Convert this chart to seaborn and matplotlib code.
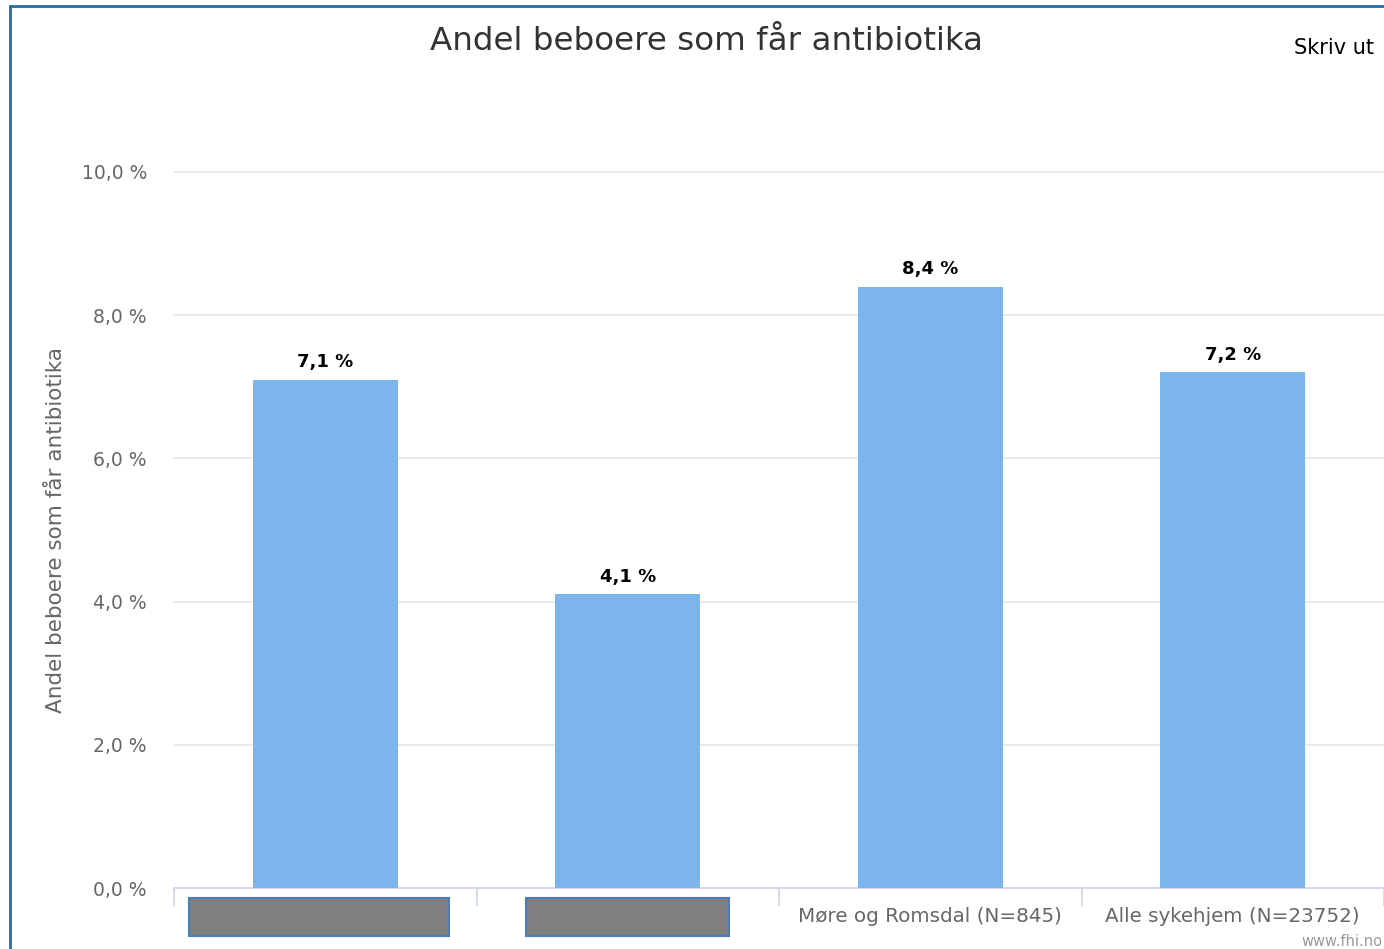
import matplotlib
matplotlib.use("Agg")
import matplotlib.pyplot as plt
import matplotlib.transforms as mtransforms
from matplotlib.patches import Rectangle
import seaborn as sns
import pandas as pd

categories = ["", " ", "Møre og Romsdal (N=845)", "Alle sykehjem (N=23752)"]
values = [7.1, 4.1, 8.4, 7.2]
labels = ["7,1 %", "4,1 %", "8,4 %", "7,2 %"]
yticks = [0, 2, 4, 6, 8, 10]
ytick_labels = ["0,0 %", "2,0 %", "4,0 %", "6,0 %", "8,0 %", "10,0 %"]

sns.set_theme(style="white")
plt.rcParams['font.family'] = ['DejaVu Sans']

df = pd.DataFrame({"kat": categories, "andel": values})

fig = plt.figure(figsize=(13.84, 9.49), dpi=100)
ax = fig.add_axes([174/1384, 1-888/949, 1-174/1384, (888-172)/949])

sns.barplot(data=df, x="kat", y="andel", color="#7cb5ec", saturation=1,
            width=0.48, ax=ax, zorder=3)
for p in ax.patches:
    p.set_edgecolor("none")

ax.set_ylim(0, 10)
ax.set_xlim(-0.5, 3.5)
ax.set_yticks(yticks)
ax.set_yticklabels(ytick_labels, color="#666666", fontsize=13.5)
ax.yaxis.grid(True, color="#e6e6e6", linewidth=1.2, zorder=0)
for gl in ax.get_ygridlines():
    gl.set_clip_on(False)
ax.set_axisbelow(True)
for s in ["top", "right", "left"]:
    ax.spines[s].set_visible(False)
ax.spines["bottom"].set_color("#ccd6eb")
ax.spines["bottom"].set_linewidth(1.2)
ax.tick_params(axis="y", length=0, pad=19.5)
ax.set_xticks(range(4))
ax.set_xticklabels(categories, color="#666666", fontsize=14.3)
ax.tick_params(axis="x", which="major", length=0, pad=14)
ax.set_xticks([-0.5, 0.5, 1.5, 2.5, 3.5], minor=True)
ax.tick_params(axis="x", which="minor", length=13, width=1.2, color="#ccd6eb",
               bottom=True)
ax.set_xlabel("")
ax.set_ylabel("Andel beboere som får antibiotika", color="#666666", fontsize=15.5,
              labelpad=11)

for p, lab in zip(ax.patches, labels):
    ax.annotate(lab, (p.get_x() + p.get_width()/2, p.get_height()),
                xytext=(0, 6), textcoords="offset points", ha="center", va="bottom",
                fontsize=13, fontweight="bold", color="black")

# redaction boxes over the first two category labels
trans = mtransforms.blended_transform_factory(ax.transData, ax.transAxes)
for i, (dx, w) in enumerate([(-0.02, 0.86), (0.0, 0.67)]):
    ax.add_patch(Rectangle((i + dx - w/2, -0.067), w, 0.053, transform=trans,
                           facecolor="#808080", edgecolor="#4a7ebb", linewidth=1.5,
                           clip_on=False, zorder=5))

fig.text(706/1384, 1-42/949, "Andel beboere som får antibiotika", ha="center",
         va="center", fontsize=23.4, color="#333333")
fig.text(1374/1384, 1-48/949, "Skriv ut", ha="right", va="center", fontsize=15,
         color="black")
fig.text(1382/1384, 1-942/949, "www.fhi.no", ha="right", va="center", fontsize=10.5,
         color="#999999")

# frame lines (left and top)
fig.add_artist(plt.Line2D([10/1384, 10/1384], [0, 1-6/949], transform=fig.transFigure,
                          color="#1f6fae", linewidth=2))
fig.add_artist(plt.Line2D([10/1384, 1], [1-6/949, 1-6/949], transform=fig.transFigure,
                          color="#1f6fae", linewidth=2))

fig.savefig("out.png", dpi=100, facecolor="white")
